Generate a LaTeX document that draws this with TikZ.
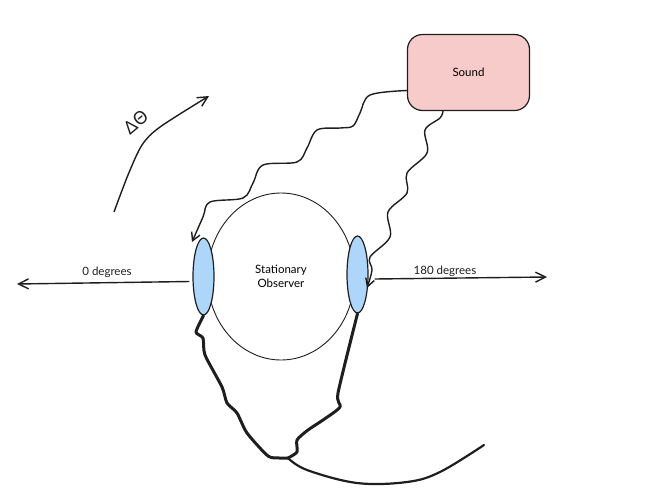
\documentclass[tikz,border=0pt]{standalone}
\usepackage{fontspec}
\setmainfont{Lato}
\newfontfamily\thetafont{Noto Sans}
\usetikzlibrary{shapes.geometric,arrows.meta}
\definecolor{ink}{HTML}{1E1E1E}
\definecolor{soundfill}{HTML}{F8CBCB}
\definecolor{earfill}{HTML}{AED6FB}
\tikzset{
  soundbox/.style={draw=ink,line width=1.2pt,fill=soundfill,rounded corners=15pt,minimum width=122pt,minimum height=76pt,inner sep=0pt,font=\fontsize{11.5}{13}\selectfont},
  head/.style={draw=ink,line width=0.9pt,ellipse,minimum width=147pt,minimum height=167pt,inner sep=0pt,align=center,font=\fontsize{11.5}{13.5}\selectfont},
  ear/.style={draw=ink,line width=1.2pt,fill=earfill,ellipse,minimum width=21pt,minimum height=77pt,inner sep=0pt},
  lbl/.style={inner sep=0pt,text=ink,font=\fontsize{11.5}{13}\selectfont},
  wave/.style={draw=ink,line width=1.4pt,line join=round,-{Straight Barb[length=8pt,width=9pt]}},
  axis/.style={draw=ink,line width=1.4pt,-{Straight Barb[length=10pt,width=10pt]}},
  band/.style={draw=ink,line width=3pt,line cap=round,line join=round},
  tail/.style={draw=ink,line width=2.2pt,line cap=round,line join=round}
}
\begin{document}
\begin{tikzpicture}[x=1pt,y=-1pt]
\useasboundingbox (0,0) rectangle (665,504);
\node[soundbox] (sound) at (468.5,72.5) {Sound};
\node[head] (observer) at (281,276.5) {Stationary\\Observer};
\node[ear] (earL) at (203.5,276.5) {};
\node[ear] (earR) at (357.5,274.5) {};
\coordinate (left) at (17,284);
\coordinate (right) at (547,277);
\coordinate (thetaS) at (114,212);
\coordinate (thetaE) at (209,96);
\coordinate (junction) at (288,458);
\coordinate (tailEnd) at (484,445);
\coordinate (waveLend) at (192,242);
\coordinate (waveRend) at (367,288);
\draw[axis] (earL.west |- 0,281.5) ++(-3,0) -- (left);
\draw[axis] (earR.east |- 0,279) ++(6,0) -- (right);
\node[lbl] (deg0) at (107,272) {0 degrees};
\node[lbl] (deg180) at (445,271) {180 degrees};
\draw[wave] plot[smooth,tension=0.55] coordinates {(sound.west |- 0,90.5) (370,95) (360,113) (353,126) (340,128) (317,130) (307,148) (297,162) (263,165) (253,183) (243,198) (210,202) (203,217) (waveLend)};
\draw[wave] plot[smooth,tension=0.55] coordinates {(443,111) (440,118) (425,130) (427,153) (407,173) (407,193) (388,212) (390,237) (370,257) (372,270) (waveRend)};
\draw[axis] plot[smooth,tension=0.5] coordinates {(thetaS) (128,175) (142,145) (160,127) (thetaE)};
\node[inner sep=0pt,text=ink,rotate=40,font=\thetafont\fontsize{18}{20}\selectfont] (dtheta) at (136,122) {ΔΘ};
\draw[band] plot[smooth,tension=0.4] coordinates {(earL.south) (196,332) (203,338) (205,355) (222,387) (227,403) (237,413) (247,433) (268,456) (280,458) (junction)};
\draw[band] plot[smooth,tension=0.4] coordinates {(earR.south) (338,393) (340,407) (323,420) (308,430) (297,440) (297,452) (junction)};
\draw[tail] plot[smooth,tension=0.6] coordinates {(junction) (307,470) (357,483) (407,482) (440,472) (tailEnd)};
\end{tikzpicture}
\end{document}
